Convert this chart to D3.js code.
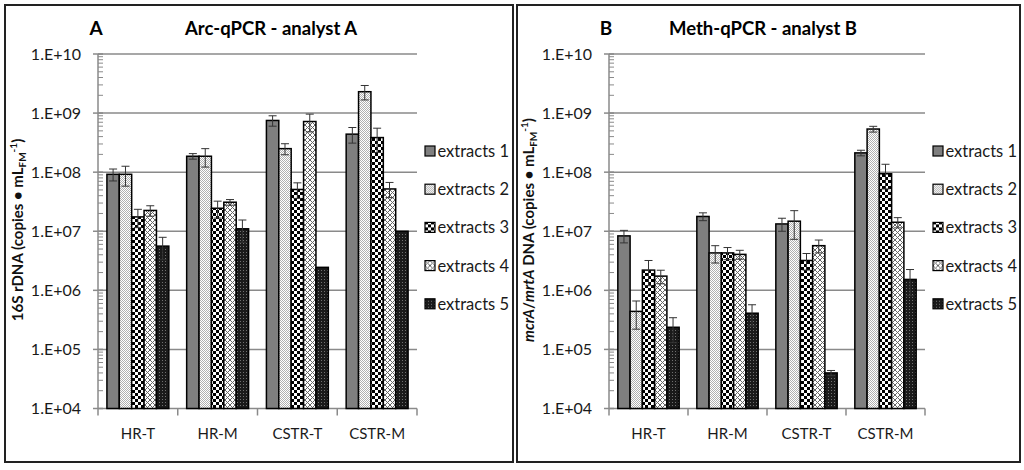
<!DOCTYPE html>
<html>
<head>
<meta charset="utf-8">
<script src="https://cdn.jsdelivr.net/npm/d3@7"></script>
<style>
  body { margin: 0; background: #fff; }
  svg { display: block; font-family: Lato, "Open Sans", sans-serif; }
</style>
</head>
<body>
<div id="chart"></div>
<script>
// categories and series
const categories = ["HR-T", "HR-M", "CSTR-T", "CSTR-M"];
const seriesNames = ["extracts 1", "extracts 2", "extracts 3", "extracts 4", "extracts 5"];
const yTicks = [1e4, 1e5, 1e6, 1e7, 1e8, 1e9, 1e10];

// panel A: Arc-qPCR, one row per extract, one value per category
const arcMeans = [
  [9.2e7, 1.86e8, 7.5e8, 4.4e8],
  [9.2e7, 1.86e8, 2.5e8, 2.3e9],
  [1.75e7, 2.45e7, 5.1e7, 3.85e8],
  [2.25e7, 3.1e7, 7.2e8, 5.2e7],
  [5.6e6, 1.1e7, 2.45e6, 1.0e7]
];
const arcErrors = [
  [2.1e7, 2.0e7, 1.5e8, 1.3e8],
  [3.4e7, 6.4e7, 5.3e7, 6.3e8],
  [6e6, 7.8e6, 1.5e7, 1.7e8],
  [4.5e6, 3.4e6, 2.4e8, 1.5e7],
  [2.3e6, 4.5e6, 0, 0]
];

// panel B: Meth-qPCR
const methMeans = [
  [8.35e6, 1.78e7, 1.33e7, 2.12e8],
  [4.4e5, 4.3e6, 1.48e7, 5.37e8],
  [2.2e6, 4.3e6, 3.2e6, 9.4e7],
  [1.74e6, 4.06e6, 5.7e6, 1.42e7],
  [2.37e5, 4.1e5, 4.0e4, 1.53e6]
];
const methErrors = [
  [2e6, 2.7e6, 3.3e6, 2.3e7],
  [2.2e5, 1.4e6, 7.5e6, 6e7],
  [1e6, 1e6, 1e6, 4.2e7],
  [4.5e5, 7e5, 1.4e6, 2.8e6],
  [1.07e5, 1.6e5, 4e3, 7.2e5]
];

const width = 1024, height = 470;

const svg = d3.select("#chart")
  .append("svg")
  .attr("width", width)
  .attr("height", height);

// fill patterns, one per extract
const defs = svg.append("defs");
const fills = [];

fills.push("#7f7f7f");

let p = defs.append("pattern").attr("id", "p2").attr("patternUnits", "userSpaceOnUse")
  .attr("width", 2).attr("height", 2);
p.append("rect").attr("width", 2).attr("height", 2).attr("fill", "#fff");
p.append("rect").attr("width", 1).attr("height", 1).attr("fill", "#b0b0b0");
p.append("rect").attr("x", 1).attr("y", 1).attr("width", 1).attr("height", 1).attr("fill", "#b0b0b0");
fills.push("url(#p2)");

p = defs.append("pattern").attr("id", "p3").attr("patternUnits", "userSpaceOnUse")
  .attr("width", 6).attr("height", 6);
p.append("rect").attr("width", 6).attr("height", 6).attr("fill", "#fff");
p.append("rect").attr("width", 3).attr("height", 3).attr("fill", "#000");
p.append("rect").attr("x", 3).attr("y", 3).attr("width", 3).attr("height", 3).attr("fill", "#000");
fills.push("url(#p3)");

p = defs.append("pattern").attr("id", "p4").attr("patternUnits", "userSpaceOnUse")
  .attr("width", 5).attr("height", 5);
p.append("rect").attr("width", 5).attr("height", 5).attr("fill", "#fff");
p.append("path").attr("d", "M0,0L5,5M5,0L0,5").attr("stroke", "#666").attr("stroke-width", 1);
fills.push("url(#p4)");

p = defs.append("pattern").attr("id", "p5").attr("patternUnits", "userSpaceOnUse")
  .attr("width", 3).attr("height", 3);
p.append("rect").attr("width", 3).attr("height", 3).attr("fill", "#1a1a1a");
p.append("rect").attr("width", 1).attr("height", 1).attr("fill", "#707070");
fills.push("url(#p5)");

const fmt = v => "1.E+" + String(Math.round(Math.log10(v))).padStart(2, "0");

function drawPanel(cfg) {
  const g = svg.append("g");

  // panel frame
  g.append("rect")
    .attr("x", cfg.box[0]).attr("y", 5)
    .attr("width", cfg.box[1] - cfg.box[0]).attr("height", 457)
    .attr("fill", "none").attr("stroke", "#222").attr("stroke-width", 2);

  const x0 = d3.scaleBand().domain(categories).range([cfg.left, cfg.right]);
  const x1 = d3.scaleBand().domain(d3.range(seriesNames.length))
    .range([0, x0.bandwidth()]).paddingOuter(0.72);
  const y = d3.scaleLog().domain([1e4, 1e10]).range([408.5, 54]);

  // gridlines
  g.selectAll(".grid")
    .data(yTicks.slice(1))
    .enter().append("line")
      .attr("x1", cfg.left).attr("x2", cfg.right)
      .attr("y1", d => y(d)).attr("y2", d => y(d))
      .attr("stroke", "#8a8a8a").attr("stroke-width", 1.5);

  // y axis with minor log ticks
  const minor = [];
  yTicks.slice(0, -1).forEach(t => { for (let k = 2; k < 10; k++) minor.push(t * k); });
  g.selectAll(".minor")
    .data(minor)
    .enter().append("line")
      .attr("x1", cfg.left).attr("x2", cfg.left + 5)
      .attr("y1", d => y(d)).attr("y2", d => y(d))
      .attr("stroke", "#8a8a8a").attr("stroke-width", 1);
  g.selectAll(".major")
    .data(yTicks)
    .enter().append("line")
      .attr("x1", cfg.left - 5).attr("x2", cfg.left + 5)
      .attr("y1", d => y(d)).attr("y2", d => y(d))
      .attr("stroke", "#8a8a8a").attr("stroke-width", 1.5);
  g.append("line")
    .attr("x1", cfg.left).attr("x2", cfg.left)
    .attr("y1", y(1e4)).attr("y2", y(1e10))
    .attr("stroke", "#8a8a8a").attr("stroke-width", 1.5);
  g.selectAll(".ylab")
    .data(yTicks)
    .enter().append("text")
      .attr("x", cfg.left - 17).attr("y", d => y(d) + 5.5)
      .attr("text-anchor", "end")
      .attr("font-size", 16).attr("fill", "#1a1a1a")
      .text(fmt);

  // x axis
  g.append("line")
    .attr("x1", cfg.left).attr("x2", cfg.right)
    .attr("y1", y(1e4)).attr("y2", y(1e4))
    .attr("stroke", "#8a8a8a").attr("stroke-width", 1.5);
  const bounds = categories.map(c => x0(c)).concat([cfg.right]);
  g.selectAll(".xtick")
    .data(bounds)
    .enter().append("line")
      .attr("x1", d => d).attr("x2", d => d)
      .attr("y1", y(1e4)).attr("y2", y(1e4) + 7)
      .attr("stroke", "#8a8a8a").attr("stroke-width", 1.5);
  g.selectAll(".xlab")
    .data(categories)
    .enter().append("text")
      .attr("x", d => x0(d) + x0.bandwidth() / 2)
      .attr("y", 439)
      .attr("text-anchor", "middle")
      .attr("font-size", 15).attr("fill", "#1a1a1a")
      .text(d => d);

  // bars
  const flat = [];
  cfg.means.forEach((row, s) => row.forEach((v, c) => {
    flat.push({ s: s, c: categories[c], v: v, e: cfg.errors[s][c] });
  }));

  g.selectAll(".bar")
    .data(flat)
    .enter().append("rect")
      .attr("x", d => x0(d.c) + x1(d.s))
      .attr("y", d => y(d.v))
      .attr("width", x1.bandwidth())
      .attr("height", d => y(1e4) - y(d.v))
      .attr("fill", d => fills[d.s])
      .attr("stroke", "#000").attr("stroke-width", 1.5);

  // error bars
  const eb = g.selectAll(".err")
    .data(flat.filter(d => d.e > 0))
    .enter().append("g")
      .attr("stroke", "#333").attr("stroke-width", 1);
  const cx = d => x0(d.c) + x1(d.s) + x1.bandwidth() / 2;
  eb.append("line")
    .attr("x1", cx).attr("x2", cx)
    .attr("y1", d => y(d.v + d.e)).attr("y2", d => y(Math.max(d.v - d.e, 1e4)));
  eb.append("line")
    .attr("x1", d => cx(d) - 4).attr("x2", d => cx(d) + 4)
    .attr("y1", d => y(d.v + d.e)).attr("y2", d => y(d.v + d.e));
  eb.append("line")
    .attr("x1", d => cx(d) - 4).attr("x2", d => cx(d) + 4)
    .attr("y1", d => y(Math.max(d.v - d.e, 1e4))).attr("y2", d => y(Math.max(d.v - d.e, 1e4)));

  // legend
  const lg = g.selectAll(".leg")
    .data(seriesNames)
    .enter().append("g")
      .attr("transform", (d, i) => "translate(" + (cfg.right + 8) + "," + (151 + i * 38.2) + ")");
  lg.append("rect")
    .attr("x", 0).attr("y", -5).attr("width", 10).attr("height", 10)
    .attr("fill", (d, i) => fills[i])
    .attr("stroke", "#000").attr("stroke-width", 1.2);
  lg.append("text")
    .attr("x", 12.5).attr("y", 6)
    .attr("font-size", 16.5).attr("fill", "#1a1a1a")
    .text(d => d);

  // titles
  g.append("text")
    .attr("x", cfg.letterX).attr("y", 35)
    .attr("text-anchor", "middle")
    .attr("font-size", 19).attr("font-weight", "bold")
    .text(cfg.letter);
  g.append("text")
    .attr("x", cfg.titleX).attr("y", 34.5)
    .attr("text-anchor", "middle")
    .attr("font-size", 18.5).attr("font-weight", "bold")
    .text(cfg.title);

  // y axis title
  const yt = g.append("text")
    .attr("transform", "translate(" + cfg.labelX + ",230) rotate(-90)")
    .attr("text-anchor", "middle")
    .attr("font-size", 15).attr("font-weight", "bold").attr("fill", "#111");
  cfg.label.forEach(part => {
    const t = yt.append("tspan").text(part.t);
    if (part.italic) t.attr("font-style", "italic");
    if (part.sub) t.attr("font-size", 10).attr("baseline-shift", "-3");
    if (part.sup) t.attr("font-size", 10).attr("baseline-shift", "6");
  });
}

drawPanel({
  box: [5, 513], left: 98, right: 417,
  means: arcMeans, errors: arcErrors,
  letter: "A", letterX: 96, title: "Arc-qPCR - analyst A", titleX: 271,
  labelX: 23,
  label: [{ t: "16S rDNA (copies \u2022 mL" }, { t: "FM", sub: true }, { t: "-1", sup: true }, { t: ")" }]
});

drawPanel({
  box: [517, 1020], left: 609, right: 925,
  means: methMeans, errors: methErrors,
  letter: "B", letterX: 606, title: "Meth-qPCR - analyst B", titleX: 763,
  labelX: 534,
  label: [{ t: "mcrA", italic: true }, { t: "/" }, { t: "mrtA", italic: true }, { t: " DNA (copies \u2022 mL" },
          { t: "FM", sub: true }, { t: "-1", sup: true }, { t: ")" }]
});
</script>
</body>
</html>
